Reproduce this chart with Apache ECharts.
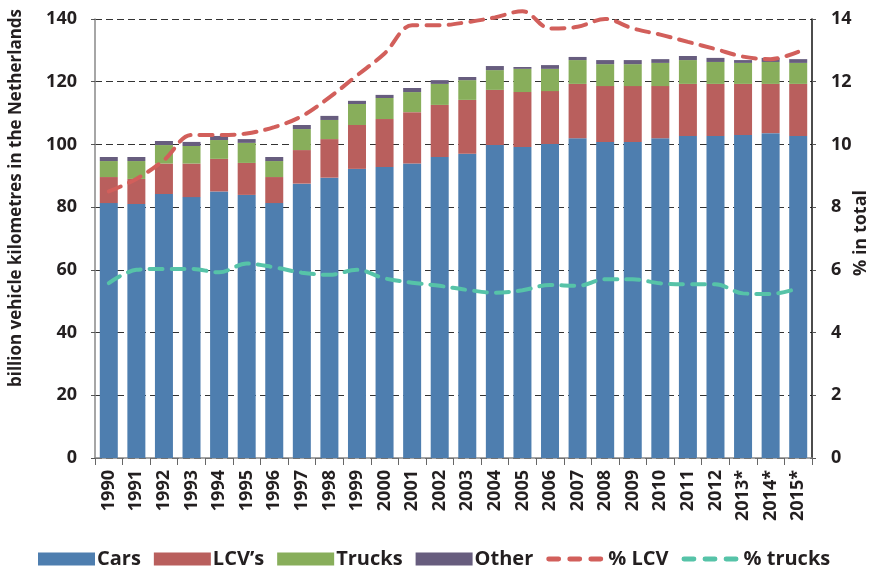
<!DOCTYPE html>
<html>
<head>
<meta charset="utf-8">
<script src="https://cdn.jsdelivr.net/npm/echarts@6/dist/echarts.min.js"></script>
<style>
html,body{margin:0;padding:0;background:#fff;}
#chart{width:872px;height:568px;}
</style>
</head>
<body>
<div id="chart"></div>
<script>
var years = ['1990','1991','1992','1993','1994','1995','1996','1997','1998','1999','2000','2001','2002','2003','2004','2005','2006','2007','2008','2009','2010','2011','2012','2013*','2014*','2015*'];
var cars = [81.3, 81.0, 84.2, 83.2, 85.0, 83.9, 81.3, 87.5, 89.4, 92.2, 92.8, 93.9, 96.0, 97.0, 99.8, 99.2, 100.1, 102.0, 100.8, 100.8, 102.0, 102.7, 102.7, 103.0, 103.6, 102.7];
var lcv = [8.3, 8.0, 9.7, 10.7, 10.4, 10.2, 8.3, 10.7, 12.3, 14.0, 15.3, 16.4, 16.6, 17.2, 17.6, 17.5, 16.9, 17.3, 17.8, 17.8, 16.6, 16.6, 16.6, 16.3, 15.7, 16.6];
var trucks = [5.1, 5.7, 5.9, 5.6, 6.0, 6.4, 5.1, 6.7, 6.1, 6.7, 6.7, 6.4, 6.7, 6.3, 6.3, 7.4, 7.1, 7.6, 7.0, 7.0, 7.4, 7.6, 7.0, 6.7, 7.0, 6.7];
var other = [1.3, 1.3, 1.3, 1.3, 1.3, 1.2, 1.3, 1.3, 1.3, 1.0, 1.0, 1.3, 1.2, 1.0, 1.3, 0.6, 1.2, 1.0, 1.3, 1.3, 1.2, 1.3, 1.3, 0.9, 1.3, 1.2];
var pctLcv = [8.5, 8.9, 9.5, 10.3, 10.3, 10.35, 10.55, 10.9, 11.5, 12.2, 12.9, 13.8, 13.8, 13.9, 14.05, 14.25, 13.7, 13.75, 14.0, 13.7, 13.5, 13.27, 13.04, 12.8, 12.72, 12.95];
var pctTrucks = [5.58, 6.0, 6.03, 6.03, 5.92, 6.2, 6.08, 5.91, 5.84, 6.0, 5.73, 5.59, 5.49, 5.36, 5.27, 5.35, 5.52, 5.49, 5.70, 5.70, 5.57, 5.54, 5.54, 5.25, 5.23, 5.41];

var FONT = '"Open Sans", "Noto Sans", sans-serif';
var TXT = '#231f20';
var DASH_ICON = 'path://M2,0h8a2,2 0 0 1 0,4h-8a2,2 0 0 1 0,-4z M19,0h8a2,2 0 0 1 0,4h-8a2,2 0 0 1 0,-4z M36,0h8a2,2 0 0 1 0,4h-8a2,2 0 0 1 0,-4z';
var chart = echarts.init(document.getElementById('chart'), null, {renderer: 'canvas'});

function barSeries(name, data, color) {
  return {name: name, type: 'bar', stack: 'total', data: data, barWidth: 18,
    itemStyle: {color: color}, emphasis: {disabled: true}};
}
function lineSeries(name, data, color) {
  return {name: name, type: 'line', yAxisIndex: 1, data: data, smooth: 0.35, clip: false,
    symbol: 'none', lineStyle: {color: color, width: 4, type: [13, 9], cap: 'round'},
    itemStyle: {color: color}, emphasis: {disabled: true}};
}
var legendText = {fontFamily: FONT, fontSize: 20, fontWeight: 'bold', color: TXT, padding: [0, 0, 0, -3]};
var legendTextLine = {fontFamily: FONT, fontSize: 20, fontWeight: 'bold', color: TXT, padding: [0, 0, 0, 0]};

chart.setOption({
  animation: false,
  textStyle: {fontFamily: FONT},
  grid: {left: 95, right: 60, top: 19, bottom: 110, containLabel: false},
  legend: {
    left: 33, top: 544, itemWidth: 57, itemHeight: 13, itemGap: 13,
    textStyle: legendText,
    data: [
      {name: 'Cars', icon: 'rect'}, {name: 'LCV\u2019s', icon: 'rect'},
      {name: 'Trucks', icon: 'rect'}, {name: 'Other', icon: 'rect'},
      {name: '% LCV', icon: DASH_ICON, textStyle: legendTextLine},
      {name: '% trucks', icon: DASH_ICON, textStyle: legendTextLine}
    ]
  },
  xAxis: {
    type: 'category', data: years,
    axisLine: {lineStyle: {color: '#888', width: 1.5}},
    axisTick: {show: true, length: 7, lineStyle: {color: '#666'}},
    axisLabel: {rotate: 90, margin: 12, fontFamily: FONT, fontSize: 18, fontWeight: 'bold', color: TXT, interval: 0}
  },
  yAxis: [
    {
      type: 'value', min: 0, max: 140, interval: 20,
      axisLine: {show: true, lineStyle: {color: '#888', width: 1.5}},
      axisTick: {show: true, length: 7, lineStyle: {color: '#555', type: [4, 3]}},
      axisLabel: {margin: 18, fontFamily: FONT, fontSize: 18, fontWeight: 'bold', color: TXT},
      splitLine: {show: true, lineStyle: {color: '#333', type: [7, 4], width: 1}}
    },
    {
      type: 'value', min: 0, max: 14, interval: 2, position: 'right',
      axisLine: {show: true, lineStyle: {color: '#111', width: 1.5}},
      axisTick: {show: true, length: 6, lineStyle: {color: '#555', type: [4, 3]}},
      axisLabel: {margin: 19, fontFamily: FONT, fontSize: 18, fontWeight: 'bold', color: TXT},
      splitLine: {show: false}
    }
  ],
  graphic: [{
    type: 'text', x: 16, y: 198, rotation: Math.PI / 2,
    style: {text: 'billion vehicle kilometres in the Netherlands', fontFamily: FONT, fontSize: 17,
      fontWeight: 'bold', fill: TXT, align: 'center', verticalAlign: 'middle'}
  }, {
    type: 'text', x: 861, y: 233, rotation: Math.PI / 2,
    style: {text: '% in total', fontFamily: FONT, fontSize: 18,
      fontWeight: 'bold', fill: TXT, align: 'center', verticalAlign: 'middle'}
  }],
  series: [
    barSeries('Cars', cars, '#4e7eaf'),
    barSeries('LCV\u2019s', lcv, '#b95f5d'),
    barSeries('Trucks', trucks, '#88ae5b'),
    barSeries('Other', other, '#675d7e'),
    lineSeries('% LCV', pctLcv, '#d25f5b'),
    lineSeries('% trucks', pctTrucks, '#56c3a8')
  ]
});
</script>
</body>
</html>
